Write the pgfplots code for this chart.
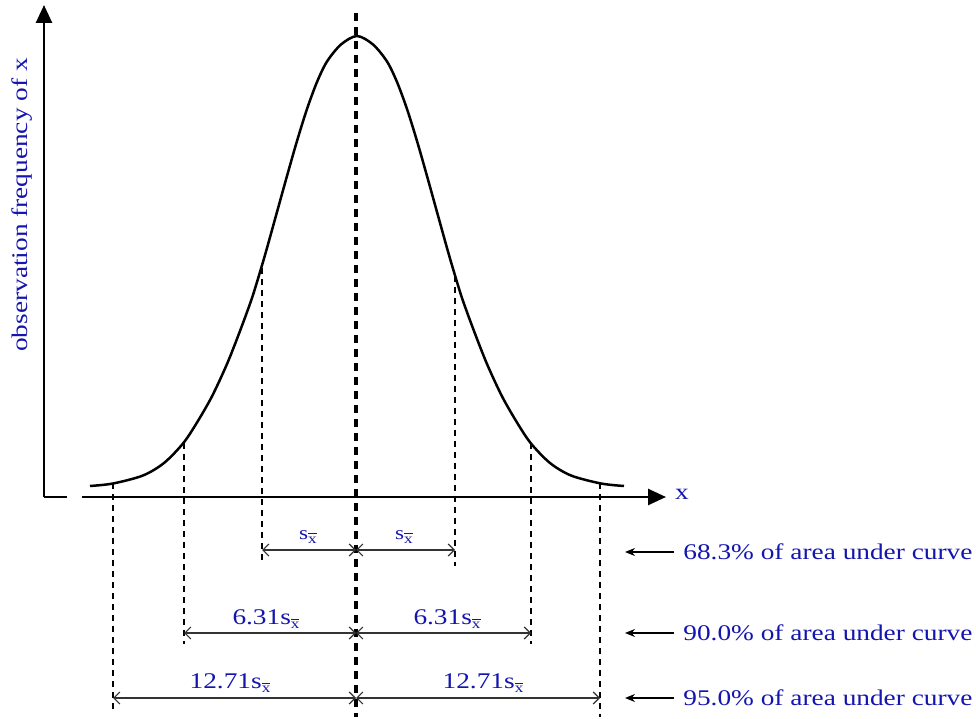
\documentclass[border=0pt]{standalone}
\usepackage{pgfplots}
\pgfplotsset{compat=1.18}
\usepackage{fontspec}
\setmainfont[FakeStretch=1.22]{Liberation Serif}
\usetikzlibrary{arrows.meta}
\definecolor{lblue}{RGB}{20,20,175}
\newcommand{\sx}{s\raisebox{-0.35ex}{\scriptsize$\overline{\mbox{x}}$}}
\tikzset{
  lbl/.style={text=lblue, font=\fontsize{11.2}{13}\selectfont},
  lblsmall/.style={text=lblue, font=\fontsize{9.5}{11}\selectfont}}

\begin{document}
\begin{tikzpicture}
\begin{axis}[
  scale only axis, width=488pt, height=358.5pt,
  xmin=0, xmax=976, ymin=-220, ymax=497,
  axis lines=none, clip=false]
% page frame
\path (0,-220) rectangle (976,497);

% axes
\draw[line width=1.3pt, -{Triangle[length=9pt,width=8pt]}] (44,0) -- (44,492);
\draw[line width=1.3pt] (44,0) -- (67,0);
\draw[line width=1.3pt, -{Triangle[length=9pt,width=8pt]}] (82,0) -- (666,0);
\node[lbl, rotate=90] at (22,292) {observation frequency of x};
\node[lbl] at (682,3) {x};

% bell curve
\addplot[black, line width=1.25pt, smooth, tension=0.5] coordinates {
  (90,11) (113,13.5) (143,21.5) (164,34) (183,53.5) (197,74.5) (212,100.7)
  (227,133) (240,166) (252,199) (261.5,230) (267,249) (277,285) (287,321)
  (297,356) (307,388) (317,415) (327,435.5) (341,452.5) (357,461)
  (373,452.5) (387,435.5) (397,415) (407,388) (417,356) (427,321)
  (437,285) (447,249) (452.5,230) (462,199) (474,166) (487,133)
  (502,100.7) (517,74.5) (531,53.5) (550,34) (571,21.5) (601,13.5) (624,11)};

% vertical markers
\begin{scope}[line width=0.9pt, dash pattern=on 3pt off 2.5pt]
\draw (113,13.5) -- (113,-216);
\draw (184,54) -- (184,-147);
\draw (262,229) -- (262,-67);
\draw (455,221) -- (455,-69);
\draw (531,53.5) -- (531,-147);
\draw (600,13.6) -- (600,-220);
\end{scope}
\draw[line width=1.6pt, dash pattern=on 4pt off 3pt] (356,484) -- (356,-220);

% interval arrows
\begin{scope}[line width=0.6pt, draw=black!80, {Straight Barb[length=3pt,width=6pt]}-{Straight Barb[length=3pt,width=6pt]}]
\draw (262,-53) -- (356,-53);
\draw (356,-53) -- (455,-53);
\draw (184,-136) -- (356,-136);
\draw (356,-136) -- (531,-136);
\draw (113,-201) -- (356,-201);
\draw (356,-201) -- (600,-201);
\end{scope}
\node[lblsmall] at (308,-40) {\sx};
\node[lblsmall] at (404,-40) {\sx};
\node[lbl] at (266,-122) {6.31\sx};
\node[lbl] at (447,-122) {6.31\sx};
\node[lbl] at (230,-186) {12.71\sx};
\node[lbl] at (483,-186) {12.71\sx};

% area notes
\begin{scope}[line width=0.6pt, -{Stealth[length=5pt,width=4pt]}]
\draw (674,-55) -- (625,-55);
\draw (674,-136) -- (625,-136);
\draw (674,-201) -- (625,-201);
\end{scope}
\node[lbl, anchor=west, inner sep=0pt] at (683,-55) {68.3\% of area under curve};
\node[lbl, anchor=west, inner sep=0pt] at (683,-136) {90.0\% of area under curve};
\node[lbl, anchor=west, inner sep=0pt] at (683,-201) {95.0\% of area under curve};
\end{axis}
\end{tikzpicture}
\end{document}
